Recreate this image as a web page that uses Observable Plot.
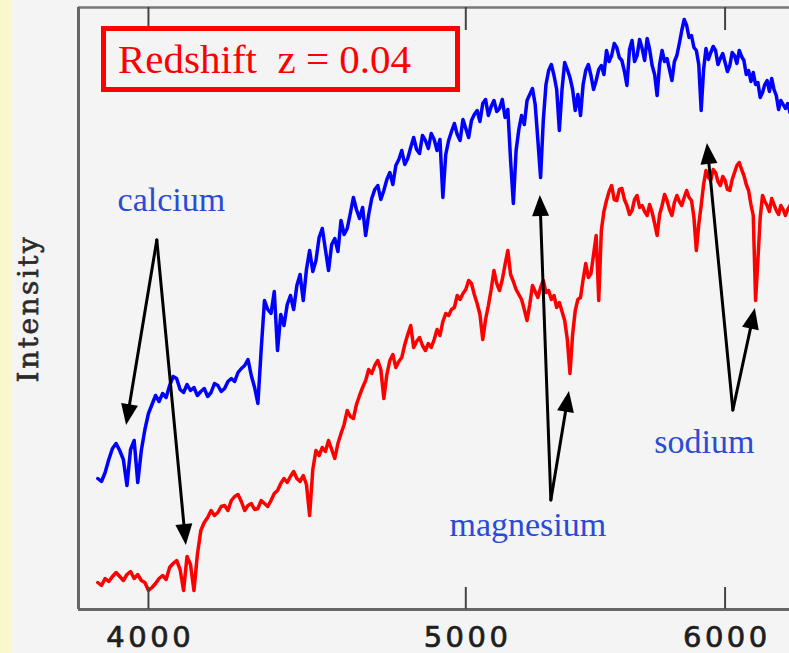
<!DOCTYPE html>
<html>
<head>
<meta charset="utf-8">
<script src="https://cdn.jsdelivr.net/npm/d3@7"></script>
<script src="https://cdn.jsdelivr.net/npm/@observablehq/plot@0.6"></script>
<style>
  html, body { margin: 0; padding: 0; }
  body {
    width: 789px; height: 653px; overflow: hidden;
    background: linear-gradient(to right, #f9f7cb 0, #f9f7cb 12px, #f4f4f4 12px);
  }
  #chart svg { display: block; background: transparent; }
  #chart svg g[font-family="DejaVu Sans"] text { letter-spacing: 3.5px; }
  #chart svg g[font-family="DejaVu Serif"] text { letter-spacing: 2.5px; }
</style>
</head>
<body>
<div id="chart"></div>
<script>
// Galaxy spectrum at rest (blue) and the same galaxy redshifted (red),
// sampled every 10 Å from 3860 Å to 6280 Å. Intensity in arbitrary units.
const wavelengths = d3.range(3860, 6281, 10);

const restIntensity = [
  131, 128, 137, 150, 161, 166, 159, 150, 124, 160,   // 3860
  169, 127, 159, 180, 196, 205, 214, 208, 216, 212,   // 3960
  224, 233, 231, 220, 217, 225, 219, 222, 214, 218,   // 4060
  221, 213, 217, 226, 224, 218, 221, 228, 231, 228,   // 4160
  237, 241, 244, 250, 234, 222, 206, 260, 309, 300,   // 4260
  296, 318, 259, 295, 284, 305, 314, 300, 324, 335,   // 4360
  309, 340, 359, 338, 349, 372, 381, 360, 339, 365,   // 4460
  371, 358, 389, 375, 381, 396, 412, 400, 391, 402,   // 4560
  374, 395, 411, 420, 424, 410, 419, 430, 437, 425,   // 4660
  444, 450, 459, 445, 451, 462, 472, 460, 456, 474,   // 4760
  469, 461, 476, 470, 459, 470, 412, 455, 469, 478,   // 4860
  486, 475, 469, 490, 481, 472, 489, 495, 499, 488,   // 4960
  506, 510, 494, 503, 509, 498, 501, 510, 492, 500,   // 5060
  449, 406, 459, 480, 494, 485, 509, 515, 521, 505,   // 5160
  469, 432, 489, 525, 539, 545, 534, 520, 479, 520,   // 5260
  547, 540, 532, 520, 499, 515, 494, 525, 539, 545,   // 5360
  534, 520, 529, 540, 544, 535, 559, 548, 554, 566,   // 5460
  562, 552, 549, 538, 524, 560, 569, 548, 554, 570,   // 5560
  561, 549, 571, 560, 544, 535, 514, 545, 559, 548,   // 5660
  551, 540, 529, 548, 554, 566, 579, 590, 584, 572,   // 5760
  574, 562, 559, 545, 499, 540, 561, 550, 557, 563,   // 5860
  559, 545, 551, 556, 547, 538, 544, 557, 554, 546,   // 5960
  559, 553, 549, 535, 539, 528, 537, 525, 527, 512,   // 6060
  517, 525, 529, 518, 531, 520, 514, 500, 509, 505,   // 6160
  501, 506, 497                                       // 6260
];

const shiftedIntensity = [
   27,  24,  31,  28,  33,  37,  33,  29,  35,  38,   // 3860
   31,  35,  29,  27,  19,  22,  26,  31,  34,  30,   // 3960
   42,  46,  49,  40,  19,  53,  45,  19,  55,  79,   // 4060
   87,  92,  99,  94,  97, 103, 104,  99, 109, 113,   // 4160
  115, 108,  99, 104, 106, 100, 101, 109, 106, 103,   // 4260
  109, 116, 119, 126, 131, 127, 133, 138, 131, 128,   // 4360
  134, 125,  94, 140, 159, 154, 162, 158, 169, 160,   // 4460
  151, 166, 176, 185, 199, 193, 191, 205, 214, 222,   // 4560
  229, 240, 236, 244, 249, 240, 211, 235, 249, 255,   // 4660
  242, 248, 252, 265, 275, 284, 262, 268, 272, 264,   // 4760
  259, 266, 262, 270, 280, 274, 288, 296, 294, 300,   // 4860
  302, 314, 310, 316, 320, 329, 326, 315, 306, 295,   // 4960
  270, 290, 304, 320, 339, 326, 319, 330, 345, 359,   // 5060
  335, 328, 320, 315, 310, 300, 289, 305, 324, 318,   // 5160
  312, 322, 329, 317, 319, 310, 314, 302, 307, 298,   // 5260
  289, 270, 236, 275, 299, 310, 312, 330, 346, 332,   // 5360
  336, 355, 374, 309, 379, 398, 409, 418, 424, 410,   // 5460
  409, 420, 421, 410, 404, 395, 399, 410, 414, 402,   // 5560
  404, 398, 394, 405, 397, 386, 374, 395, 404, 415,   // 5660
  409, 400, 394, 407, 414, 408, 404, 412, 419, 412,   // 5760
  409, 392, 359, 385, 404, 425, 439, 432, 429, 440,   // 5860
  437, 428, 424, 433, 429, 420, 419, 430, 437, 444,   // 5960
  447, 440, 434, 425, 419, 405, 394, 309, 349, 392,   // 6060
  414, 408, 404, 398, 411, 405, 399, 395, 404, 400,   // 6160
  394, 400, 404                                       // 6260
];

// Axis ticks
const xTicks = [4000, 5000, 6000];

// Absorption-line labels and their pointer arrows
const lineLabels = ["calcium", "magnesium", "sodium"];
const labelWavelengths = [4065, 5223, 5913];
const labelIntensities = [399, 74, 157];
const arrowStartWavelengths = [4025, 4025, 5310, 5310, 6035, 6035];
const arrowStartIntensities = [369, 369, 109, 109, 199, 199];
const arrowTipWavelengths = [3939, 4108, 5269, 5378, 5926, 6129];
const arrowTipIntensities = [184, 64, 414, 218, 466, 301];

const redshiftText = "Redshift  z = 0.04";

const rest = wavelengths.map((w, i) => ({wavelength: w, intensity: restIntensity[i]}));
const shifted = wavelengths.map((w, i) => ({wavelength: w, intensity: shiftedIntensity[i]}));
const labels = lineLabels.map((name, i) => ({name, wavelength: labelWavelengths[i], intensity: labelIntensities[i]}));

// Straight arrows with filled triangular heads, positioned through the plot scales
function pointerArrows(index, scales) {
  const g = d3.create("svg:g");
  for (let i = 0; i < arrowTipWavelengths.length; i++) {
    const x1 = scales.x(arrowStartWavelengths[i]), y1 = scales.y(arrowStartIntensities[i]);
    const x2 = scales.x(arrowTipWavelengths[i]), y2 = scales.y(arrowTipIntensities[i]);
    const len = Math.hypot(x2 - x1, y2 - y1);
    const ux = (x2 - x1) / len, uy = (y2 - y1) / len;
    const headLength = 21, headHalf = 8.5;
    const bx = x2 - ux * headLength, by = y2 - uy * headLength;
    g.append("line")
      .attr("x1", x1).attr("y1", y1)
      .attr("x2", bx + ux * 3).attr("y2", by + uy * 3)
      .attr("stroke", "black").attr("stroke-width", 3).attr("stroke-linecap", "round");
    g.append("path")
      .attr("d", `M${x2},${y2}L${bx - uy * headHalf},${by + ux * headHalf}L${bx + uy * headHalf},${by - ux * headHalf}Z`)
      .attr("fill", "black");
  }
  return g.node();
}

// Boxed redshift caption in the upper left corner of the frame
function redshiftBadge(index, scales, values, dimensions) {
  const {marginLeft, marginTop} = dimensions;
  const g = d3.create("svg:g");
  g.append("rect")
    .attr("x", marginLeft + 25.5).attr("y", marginTop + 21.5)
    .attr("width", 354).attr("height", 61)
    .attr("fill", "none").attr("stroke", "#ff0000").attr("stroke-width", 5);
  g.append("text")
    .attr("x", marginLeft + 40).attr("y", marginTop + 66)
    .attr("text-anchor", "start")
    .attr("fill", "#ff0000")
    .attr("font-family", "Liberation Serif, serif")
    .attr("font-size", 41)
    .style("white-space", "pre")
    .text(redshiftText);
  return g.node();
}

const chart = Plot.plot({
  width: 789,
  height: 653,
  marginLeft: 78,
  marginRight: 0,
  marginTop: 7,
  marginBottom: 44,
  style: {background: "transparent", overflow: "visible"},
  x: {type: "log", domain: [3808, 6278], axis: null},
  y: {domain: [0, 602], axis: null},
  marks: [
    Plot.line(rest, {x: "wavelength", y: "intensity", stroke: "#0000ff", strokeWidth: 3.5, strokeLinejoin: "round"}),
    Plot.line(shifted, {x: "wavelength", y: "intensity", stroke: "#ff0000", strokeWidth: 3.5, strokeLinejoin: "round"}),
    // frame on three sides
    Plot.ruleY([0], {stroke: "#666", strokeWidth: 3}),
    Plot.ruleY([602], {stroke: "#777", strokeWidth: 2.5}),
    Plot.ruleX([3808], {stroke: "#666", strokeWidth: 3}),
    // inward ticks, bottom and top
    Plot.ruleX(xTicks, {x: d => d, y1: 0, y2: 22, stroke: "#444", strokeWidth: 2}),
    Plot.ruleX(xTicks, {x: d => d, y1: 579, y2: 602, stroke: "#444", strokeWidth: 2}),
    Plot.text(xTicks, {
      x: d => d, text: d => String(d), frameAnchor: "bottom", dy: 37, dx: 1.75,
      lineAnchor: "bottom", fontSize: 29, fontFamily: "DejaVu Sans",
      fill: "#1e1e1e", stroke: "#1e1e1e", strokeWidth: 0.7
    }),
    Plot.text(["Intensity"], {
      frameAnchor: "left", dx: -49, rotate: -90, textAnchor: "middle",
      fontSize: 28, fontFamily: "DejaVu Serif",
      fill: "#2a2a2a", stroke: "#2a2a2a", strokeWidth: 0.6
    }),
    Plot.text(labels, {
      x: "wavelength", y: "intensity", text: "name", lineAnchor: "bottom",
      fontSize: 34, fontFamily: "Liberation Serif", fill: "#2a4bd7"
    }),
    pointerArrows,
    redshiftBadge
  ]
});

document.getElementById("chart").append(chart);
</script>
</body>
</html>
